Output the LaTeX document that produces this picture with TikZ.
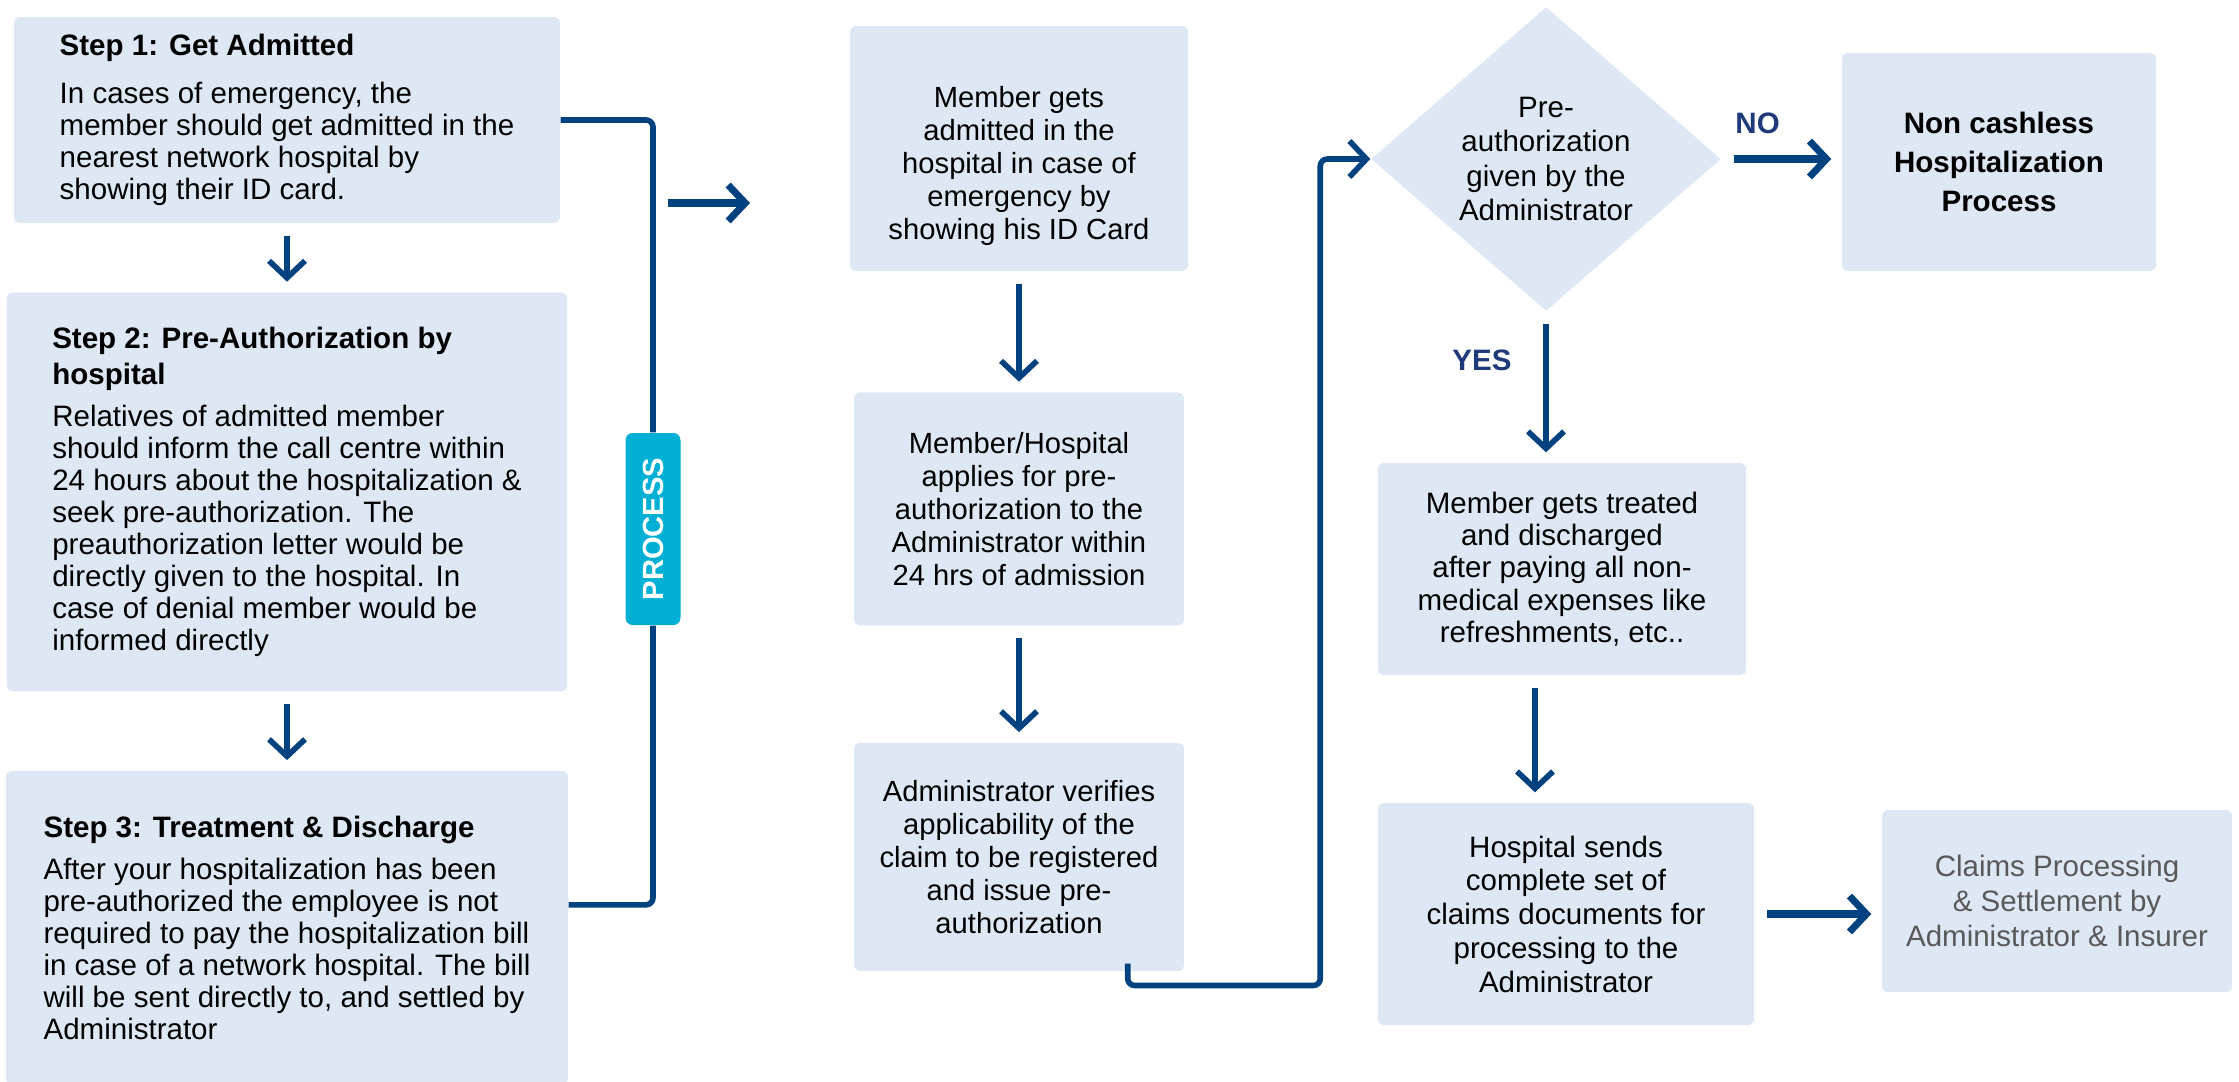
\documentclass[tikz,border=0pt]{standalone}
\usepackage{fontspec}
\setmainfont{Liberation Sans}
\usetikzlibrary{arrows.meta, positioning, calc, shapes.geometric}

\definecolor{boxblue}{HTML}{DDE8F4}
\definecolor{linkblue}{HTML}{00427F}
\definecolor{proccyan}{HTML}{00B0D4}
\definecolor{labnavy}{HTML}{1F3A7A}
\definecolor{claimgrey}{HTML}{595959}

\begin{document}
\begin{tikzpicture}[
    node distance=0.7cm and 1.0cm,
    stepbox/.style={fill=boxblue, rounded corners=1.5pt, align=left, inner sep=0pt,
                    font=\fontsize{8.4}{9.1}\selectfont},
    flowbox/.style={fill=boxblue, rounded corners=1.5pt, align=center, inner sep=0pt,
                    font=\fontsize{8.3}{9.4}\selectfont},
    decision/.style={diamond, aspect=1.15, fill=boxblue, inner sep=0pt, align=center,
                     minimum width=3.5cm, minimum height=3.04cm, font=\fontsize{8.4}{9.8}\selectfont},
    tag/.style={fill=proccyan, rounded corners=2pt, text=white, inner sep=0pt,
                minimum width=0.55cm, minimum height=1.92cm, font=\bfseries\fontsize{8.3}{10}\selectfont},
    arr/.style={-{Straight Barb[length=1.7mm,width=3.6mm]}, draw=linkblue, line width=1.6pt,
                shorten <=1.2mm, shorten >=1mm},
    bracket/.style={draw=linkblue, line width=1.6pt, rounded corners=2pt},
    answer/.style={text=labnavy, font=\bfseries\fontsize{8.4}{10}\selectfont}
  ]
  \useasboundingbox (0,0) rectangle (22.39,-10.82);

  \node[stepbox, minimum width=5.46cm, minimum height=2.06cm] (s1) at (2.87,-1.20)
    {\textbf{Step 1: Get Admitted}\\[4.5pt]
     In cases of emergency, the\\
     member should get admitted in the\\
     nearest network hospital by\\
     showing their ID card.};
  \node[stepbox, minimum width=5.60cm, minimum height=3.99cm, below=0.68cm of s1] (s2)
    {\textbf{Step 2: Pre-Authorization by}\\[1.2pt]
     \textbf{hospital}\\[3pt]
     Relatives of admitted member\\
     should inform the call centre within\\
     24 hours about the hospitalization \&\\
     seek pre-authorization. The\\
     preauthorization letter would be\\
     directly given to the hospital. In\\
     case of denial member would be\\
     informed directly};
  \node[stepbox, minimum width=5.62cm, minimum height=3.14cm, below=0.78cm of s2] (s3)
    {\textbf{Step 3: Treatment \& Discharge}\\[3pt]
     After your hospitalization has been\\
     pre-authorized the employee is not\\
     required to pay the hospitalization bill\\
     in case of a network hospital. The bill\\
     will be sent directly to, and settled by\\
     Administrator};
  \node[tag] (proc) at (6.53,-5.29) {\rotatebox{90}{PROCESS}};

  \node[flowbox, minimum width=3.38cm, minimum height=2.45cm] (mem) at (10.19,-1.485)
    {\rule{0pt}{16pt}Member gets\\ admitted in the\\ hospital in case of\\ emergency by\\ showing his ID Card};
  \node[flowbox, minimum width=3.30cm, minimum height=2.33cm, below=1.2cm of mem] (apply)
    {Member/Hospital\\ applies for pre-\\ authorization to the\\ Administrator within\\ 24 hrs of admission};
  \node[flowbox, minimum width=3.30cm, minimum height=2.28cm, below=1.16cm of apply] (verify)
    {Administrator verifies\\ applicability of the\\ claim to be registered\\ and issue pre-\\ authorization};

  \node[decision] (dia) at (15.46,-1.59)
    {Pre-\\ authorization\\ given by the\\ Administrator};
  \node[flowbox, minimum width=3.14cm, minimum height=2.18cm, font=\bfseries\fontsize{8.4}{11}\selectfont] (nocash) at (19.99,-1.62)
    {Non cashless\\ Hospitalization\\ Process};
  \node[flowbox, minimum width=3.68cm, minimum height=2.12cm, font=\fontsize{8.4}{9.2}\selectfont] (treat) at (15.62,-5.69)
    {Member gets treated\\ and discharged\\ after paying all non-\\ medical expenses like\\ refreshments, etc..};
  \node[flowbox, minimum width=3.76cm, minimum height=2.22cm, font=\fontsize{8.4}{9.6}\selectfont] (send) at (15.66,-9.14)
    {Hospital sends\\ complete set of\\ claims documents for\\ processing to the\\ Administrator};
  \node[flowbox, minimum width=3.50cm, minimum height=1.82cm, text=claimgrey, font=\fontsize{8.4}{10}\selectfont] (claims) at (20.57,-9.01)
    {Claims Processing\\ \& Settlement by\\ Administrator \& Insurer};

  \coordinate (go1) at (6.68,-2.03);
  \coordinate (go2) at (7.50,-2.03);

  \draw[arr] (s1.south) -- (s1.south |- s2.north);
  \draw[arr] (s2.south) -- (s2.south |- s3.north);
  \draw[bracket] (s1.east) -| (proc.north);
  \draw[bracket] (proc.south) |- ([yshift=2.3mm]s3.east);
  \draw[arr, line width=2pt, shorten <=0pt, shorten >=0pt] (go1) -- (go2);
  \draw[arr] (mem.south) -- (mem.south |- apply.north);
  \draw[arr] (apply.south) -- (apply.south |- verify.north);
  \draw[arr, shorten <=0pt, shorten >=0pt, rounded corners=2pt]
    ([xshift=-5.7mm,yshift=0.8mm]verify.south east) -- ++(0,-0.22) -| ([xshift=-5mm]dia.west) -- (dia.west);
  \draw[arr, line width=2pt] (dia.east) -- node[answer, above, pos=0.3, yshift=1mm] {NO} (dia.east -| nocash.west);
  \draw[arr] (dia.south) -- node[answer, left=2mm, pos=0.32] {YES} (dia.south |- treat.north);
  \draw[arr] ([xshift=-2.7mm]treat.south) -- ([xshift=-2.7mm]treat.south |- send.north);
  \draw[arr, line width=2pt] (send.east) -- (send.east -| claims.west);
\end{tikzpicture}
\end{document}
